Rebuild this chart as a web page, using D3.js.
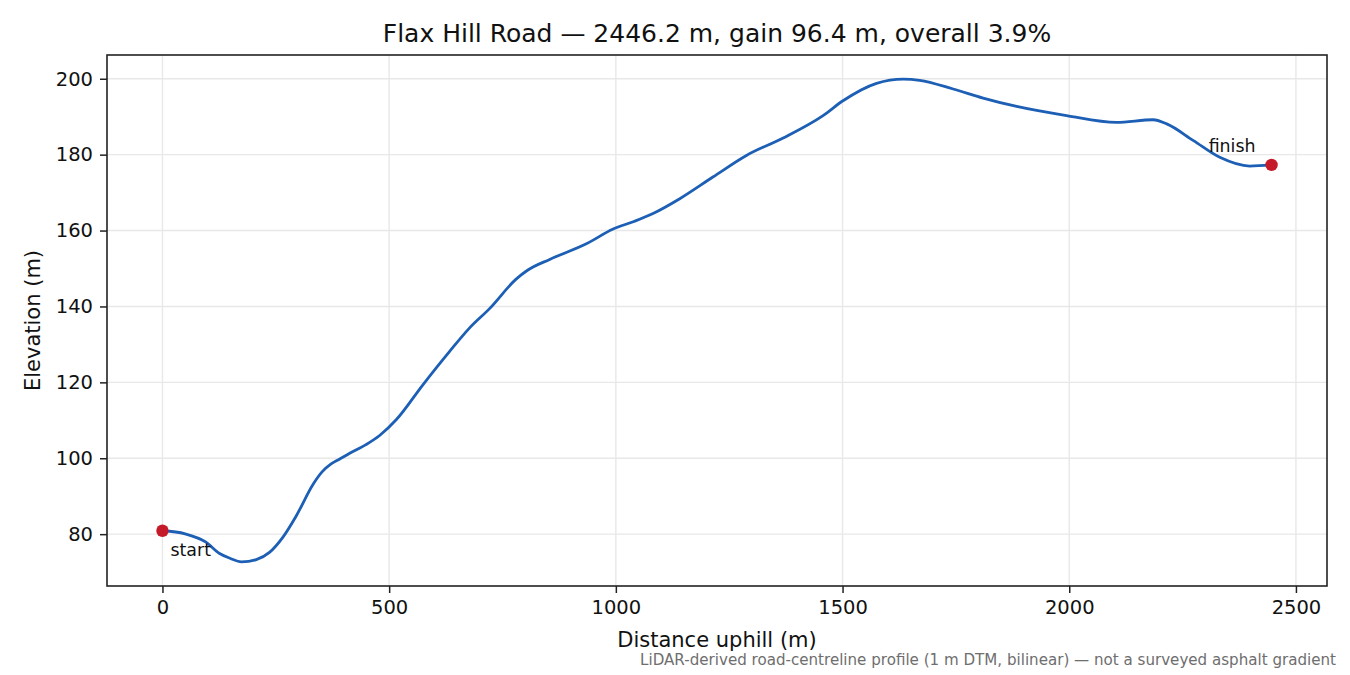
<!DOCTYPE html>
<html>
<head>
<meta charset="utf-8">
<script src="https://cdn.jsdelivr.net/npm/d3@7"></script>
<style>
  body { margin: 0; background: #fff; }
  svg { font-family: "DejaVu Sans", sans-serif; }
</style>
</head>
<body>
<svg id="chart"></svg>
<script>
// distance along the road (m) and elevation (m)
const distance = [0, 50, 96, 126, 150, 174, 207, 236, 265, 295, 332, 352, 372, 391, 413, 449, 479,
  516, 574, 633, 677, 722, 780, 806, 854, 935, 994, 1040, 1082, 1141, 1214, 1288, 1369,
  1457, 1501, 1575, 1634, 1670, 1744, 1810, 1884, 1994, 2104, 2185, 2215, 2274, 2332, 2398, 2446.2];
const elevation = [80.9, 80.1, 77.9, 74.9, 73.6, 72.7, 73.3, 75.2, 79.1, 84.8, 93.1, 96.4, 98.5, 99.8, 101.3, 103.6, 106.0,
  110.2, 119.3, 128.1, 134.3, 139.5, 147.2, 149.6, 152.4, 156.5, 160.4, 162.4, 164.5, 168.4, 174.1, 179.8, 184.4,
  190.3, 194.2, 198.8, 199.9, 199.6, 197.3, 194.9, 192.7, 190.3, 188.5, 189.2, 188.1, 183.7, 179.3, 177.0, 177.3];

const xTicks = [0, 500, 1000, 1500, 2000, 2500];
const yTicks = [80, 100, 120, 140, 160, 180, 200];

const title = "Flax Hill Road \u2014 2446.2 m, gain 96.4 m, overall 3.9%";
const xLabel = "Distance uphill (m)";
const yLabel = "Elevation (m)";
const footnote = "LiDAR-derived road-centreline profile (1 m DTM, bilinear) \u2014 not a surveyed asphalt gradient";

const width = 1350;
const height = 675;
const margin = { top: 55, right: 23, bottom: 89, left: 107 };
const innerW = width - margin.left - margin.right;
const innerH = height - margin.top - margin.bottom;

const data = distance.map((d, i) => ({ x: d, y: elevation[i] }));

// matplotlib-style 5% padding
const pad = (ext) => {
  const m = (ext[1] - ext[0]) * 0.05;
  return [ext[0] - m, ext[1] + m];
};
const x = d3.scaleLinear().domain(pad(d3.extent(distance))).range([0, innerW]);
const y = d3.scaleLinear().domain(pad(d3.extent(elevation))).range([innerH, 0]);

const svg = d3.select("#chart").attr("width", width).attr("height", height);
const g = svg.append("g").attr("transform", `translate(${margin.left},${margin.top})`);

// grid
g.append("g")
  .selectAll("line")
  .data(xTicks)
  .join("line")
  .attr("x1", (d) => x(d)).attr("x2", (d) => x(d))
  .attr("y1", 0).attr("y2", innerH)
  .attr("stroke", "#e8e8e8").attr("stroke-width", 1.4);
g.append("g")
  .selectAll("line")
  .data(yTicks)
  .join("line")
  .attr("x1", 0).attr("x2", innerW)
  .attr("y1", (d) => y(d)).attr("y2", (d) => y(d))
  .attr("stroke", "#e8e8e8").attr("stroke-width", 1.4);

// axes
const xAxis = g.append("g")
  .attr("transform", `translate(0,${innerH})`)
  .call(d3.axisBottom(x).tickValues(xTicks).tickSize(7).tickPadding(7).tickFormat(d3.format("d")));
const yAxis = g.append("g")
  .call(d3.axisLeft(y).tickValues(yTicks).tickSize(7).tickPadding(7).tickFormat(d3.format("d")));
[xAxis, yAxis].forEach((a) => {
  a.select(".domain").remove();
  a.selectAll(".tick line").attr("stroke", "#222").attr("stroke-width", 1.5);
  a.selectAll(".tick text").attr("fill", "#111").style("font-size", "19.5px")
    .style("font-family", "DejaVu Sans, sans-serif");
});

// frame
g.append("rect")
  .attr("width", innerW).attr("height", innerH)
  .attr("fill", "none").attr("stroke", "#222").attr("stroke-width", 1.6);

// profile line
const line = d3.line().x((d) => x(d.x)).y((d) => y(d.y)).curve(d3.curveMonotoneX);
g.append("path")
  .datum(data)
  .attr("fill", "none")
  .attr("stroke", "#1c5fb5")
  .attr("stroke-width", 2.8)
  .attr("stroke-linejoin", "round")
  .attr("d", line);

// start / finish markers
const ends = [
  { p: data[0], label: "start", dx: 8, dy: 25, anchor: "start" },
  { p: data[data.length - 1], label: "finish", dx: -16, dy: -13, anchor: "end" },
];
g.selectAll("circle.end")
  .data(ends)
  .join("circle")
  .attr("class", "end")
  .attr("cx", (d) => x(d.p.x))
  .attr("cy", (d) => y(d.p.y))
  .attr("r", 6.2)
  .attr("fill", "#c41a2a");
g.selectAll("text.end")
  .data(ends)
  .join("text")
  .attr("class", "end")
  .attr("x", (d) => x(d.p.x) + d.dx)
  .attr("y", (d) => y(d.p.y) + d.dy)
  .attr("text-anchor", (d) => d.anchor)
  .style("font-size", "17.4px")
  .attr("fill", "#111")
  .text((d) => d.label);

// texts
svg.append("text")
  .attr("x", margin.left + innerW / 2).attr("y", 42)
  .attr("text-anchor", "middle")
  .style("font-size", "25px")
  .attr("fill", "#111")
  .text(title);
svg.append("text")
  .attr("x", margin.left + innerW / 2).attr("y", 647)
  .attr("text-anchor", "middle")
  .style("font-size", "21px")
  .attr("fill", "#111")
  .text(xLabel);
svg.append("text")
  .attr("transform", `translate(40,${margin.top + innerH / 2}) rotate(-90)`)
  .attr("text-anchor", "middle")
  .style("font-size", "21px")
  .attr("fill", "#111")
  .text(yLabel);
svg.append("text")
  .attr("x", 1336).attr("y", 665)
  .attr("text-anchor", "end")
  .style("font-size", "15.1px")
  .attr("fill", "#6e6e6e")
  .text(footnote);
</script>
</body>
</html>
